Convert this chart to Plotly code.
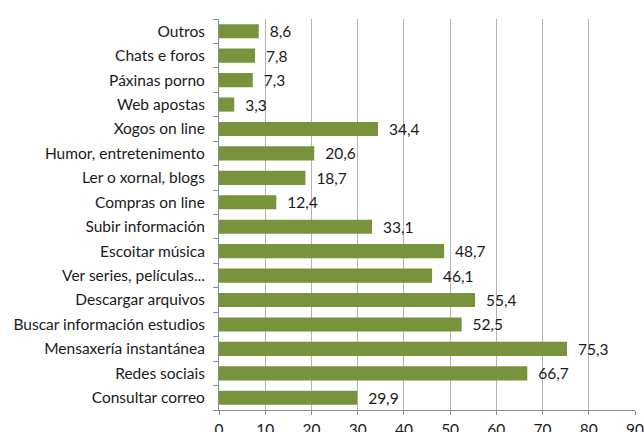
import plotly.graph_objects as go

categories = [
    'Consultar correo', 'Redes sociais', 'Mensaxería instantánea',
    'Buscar información estudios', 'Descargar arquivos', 'Ver series, películas...',
    'Escoitar música', 'Subir información', 'Compras on line',
    'Ler o xornal, blogs', 'Humor, entretenimento', 'Xogos on line',
    'Web apostas', 'Páxinas porno', 'Chats e foros', 'Outros',
]
values = [29.9, 66.7, 75.3, 52.5, 55.4, 46.1, 48.7, 33.1, 12.4, 18.7, 20.6, 34.4,
          3.3, 7.3, 7.8, 8.6]
x_ticks = [0, 10, 20, 30, 40, 50, 60, 70, 80, 90]

fig = go.Figure(go.Bar(
    x=values, y=categories, orientation='h',
    marker=dict(color='#77933C', line=dict(width=0)),
    width=0.58,
    text=['  ' + f'{v:.1f}'.replace('.', ',') for v in values],
    textposition='outside',
    constraintext='none',
    textfont=dict(size=15.5, color='#1a1a1a'),
    cliponaxis=False,
))

fig.update_layout(
    width=644, height=432,
    margin=dict(l=219, r=9, t=19, b=22),
    plot_bgcolor='white', paper_bgcolor='white',
    font=dict(family='Lato', size=15.5, color='#1a1a1a'),
    showlegend=False,
    bargap=0.4,
)
fig.update_xaxes(
    range=[0, 90], tickvals=x_ticks, showgrid=True, gridcolor='#b3b3b3', gridwidth=1,
    showline=True, linecolor='#8c8c8c', ticks='outside', ticklen=4, tickcolor='#8c8c8c',
    zeroline=False, automargin=False, ticklabelstandoff=1,
)
fig.update_yaxes(
    showline=True, linecolor='#8c8c8c', ticks='outside', ticklen=5, tickcolor='#8c8c8c',
    tickson='boundaries', ticklabelstandoff=10, showgrid=False, automargin=False,
)

fig.write_html('out.html', config={'displayModeBar': False},
               post_script="document.body.style.margin='0';")
